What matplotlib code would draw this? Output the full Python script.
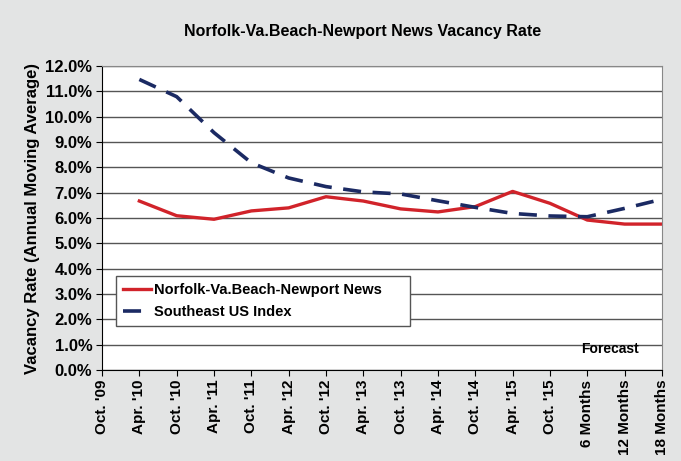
import numpy as np
import matplotlib.pyplot as plt

labels = ["Oct. '09", "Apr. '10", "Oct. '10", "Apr. '11", "Oct. '11", "Apr. '12",
          "Oct. '12", "Apr. '13", "Oct. '13", "Apr. '14", "Oct. '14", "Apr. '15",
          "Oct. '15", "6 Months", "12 Months", "18 Months"]
norfolk = [6.67, 6.09, 5.95, 6.28, 6.40, 6.84, 6.67, 6.36, 6.24, 6.45, 7.05, 6.58, 5.92, 5.76, 5.76]
southeast = [11.47, 10.79, 9.37, 8.18, 7.58, 7.24, 7.03, 6.95, 6.68, 6.42, 6.18, 6.08, 6.05, 6.38, 6.74]

plt.rcParams['font.family'] = ['Liberation Sans', 'DejaVu Sans']
plt.rcParams['font.weight'] = 'bold'

bg = '#e3e4e4'
fig = plt.figure(figsize=(6.81, 4.61), dpi=100, facecolor=bg)
ax = fig.add_axes([0.1498, 0.1974, 0.8222, 0.6594])

x = np.arange(1, len(labels))
ax.plot(x, norfolk, color='#d1232a', lw=2.4, label='Norfolk-Va.Beach-Newport News')
ax.plot(x, southeast, color='#1b2a63', lw=2.6, dashes=(5, 3.2), label='Southeast US Index')

ax.set_xlim(0, len(labels) - 1)
ax.set_ylim(0, 12)
ax.set_yticks(np.arange(0, 12.1, 1))
ax.set_yticklabels([f"{v:.1f}%" for v in np.arange(0, 12.1, 1)], fontsize=12, fontweight='bold')
ax.set_xticks(np.arange(len(labels)))
ax.set_xticklabels(labels, rotation=90, fontsize=11, fontweight='bold')
ax.grid(axis='y', color='#555555', lw=1)
ax.set_axisbelow(True)
for s in ['top', 'right', 'bottom']:
    ax.spines[s].set_color('#888888')
ax.spines['left'].set_color('black')
ax.spines['bottom'].set_color('black')
ax.tick_params(axis='both', direction='out', length=4, color='black', pad=3)

ax.set_ylabel('Vacancy Rate (Annual Moving Average)', fontsize=12, fontweight='bold', labelpad=4)
fig.text(0.533, 0.932, 'Norfolk-Va.Beach-Newport News Vacancy Rate', ha='center', va='center',
         fontsize=11.5, fontweight='bold')
ax.text(0.855, 0.07, 'Forecast', transform=ax.transAxes, ha='left', va='center',
        fontsize=10, fontweight='bold')

leg = ax.legend(loc='lower left', bbox_to_anchor=(0.025, 0.145, 0.525, 0.171), mode='expand',
                fancybox=False, framealpha=1, edgecolor='#555555',
                prop={'weight': 'bold', 'size': 10.5}, handlelength=1.9, handletextpad=0.2,
                borderpad=0.5, borderaxespad=0)
leg.get_frame().set_linewidth(1)

fig.savefig('out.png', dpi=100, facecolor=bg)
